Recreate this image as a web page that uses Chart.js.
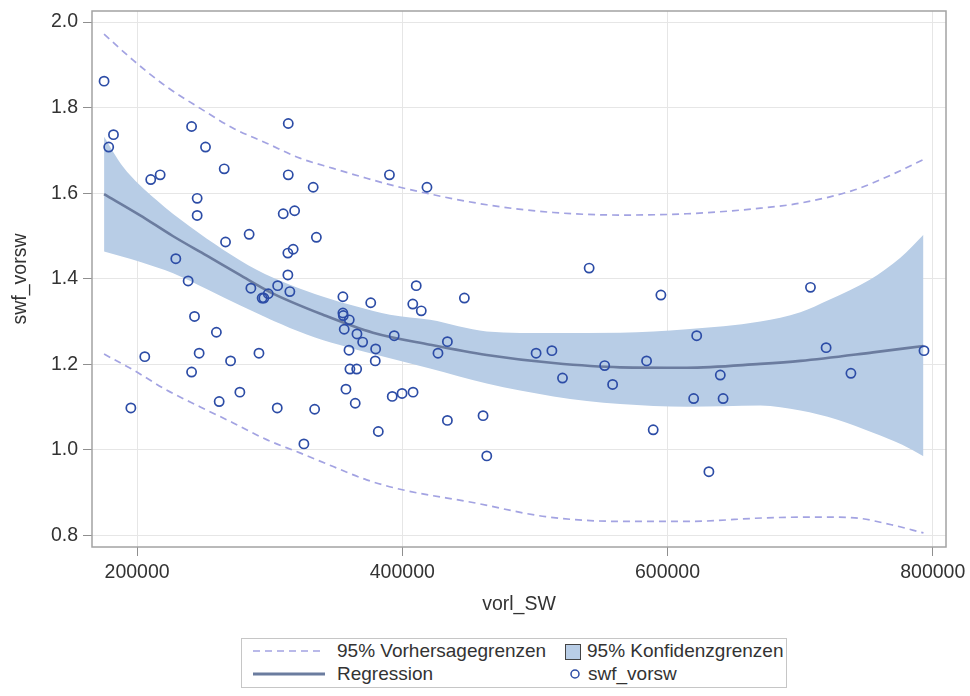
<!DOCTYPE html>
<html>
<head>
<meta charset="utf-8">
<title>swf_vorsw vs vorl_SW</title>
<script src="https://cdn.jsdelivr.net/npm/chart.js@4.4.1/dist/chart.umd.min.js"></script>
<style>
  html, body { margin: 0; padding: 0; background: #fff; }
  #wrap { position: relative; width: 970px; height: 696px; }
  #chart { position: absolute; left: 0; top: 0; }
  #legend {
    position: absolute; left: 241px; top: 638px; width: 544px; height: 48px;
    border: 1px solid #c6c6c6; background: #fff;
    font: 19px "Liberation Sans", Arial, sans-serif; color: #333;
  }
  #legend .lbl { position: absolute; white-space: nowrap; line-height: 22px; }
  #legend svg { position: absolute; overflow: visible; }
  #legend .box { position: absolute; width: 14px; height: 14px; background: #b8cde6; border: 1px solid #444; }
</style>
</head>
<body>
<div id="wrap">
  <canvas id="chart" width="970" height="696"></canvas>
  <div id="legend">
    <svg style="left:11px;top:10px" width="72" height="4"><line x1="0" y1="2" x2="72" y2="2" stroke="#a3a3e2" stroke-width="1.6" stroke-dasharray="7 5"/></svg>
    <span class="lbl" style="left:95px;top:1px">95% Vorhersagegrenzen</span>
    <span class="box" style="left:323px;top:5px"></span>
    <span class="lbl" style="left:345px;top:1px">95% Konfidenzgrenzen</span>
    <svg style="left:11px;top:33px" width="72" height="4"><line x1="0" y1="2" x2="72" y2="2" stroke="#6b7c9f" stroke-width="3"/></svg>
    <span class="lbl" style="left:95px;top:24px">Regression</span>
    <svg style="left:327px;top:29px" width="12" height="12"><circle cx="6" cy="6" r="4" fill="none" stroke="#2c4ca6" stroke-width="1.5"/></svg>
    <span class="lbl" style="left:346px;top:24px">swf_vorsw</span>
  </div>
</div>
<script>
// observations (vorl_SW, swf_vorsw)
const pointX = [175100,178600,182200,205800,195300,210300,217400,229200,238500,241100,
  243300,245300,245300,246800,241100,251600,259800,261900,265700,266700,
  270500,277500,284500,285800,291900,294300,295600,298900,305700,306000,
  310200,318800,314000,314000,313700,317700,313700,315200,325800,332800,
  333900,335200,355200,355200,355500,356200,360000,359800,357500,360500,
  365600,365800,364500,370100,376200,379900,379600,381900,390300,392400,
  399800,408100,393900,407900,410500,414300,418600,426900,434000,434000,
  446800,460900,463700,500900,512800,520800,540900,552600,558600,584200,
  589200,595000,619700,622000,631200,639800,641900,707800,719600,738300,
  793400];
const pointY = [1.862,1.708,1.737,1.218,1.098,1.632,1.643,1.447,1.395,1.756,
  1.312,1.588,1.548,1.226,1.182,1.708,1.275,1.113,1.657,1.486,
  1.208,1.135,1.504,1.378,1.226,1.355,1.355,1.365,1.098,1.384,
  1.552,1.559,1.763,1.643,1.460,1.469,1.409,1.370,1.014,1.614,
  1.095,1.497,1.358,1.320,1.314,1.282,1.304,1.233,1.142,1.189,
  1.189,1.271,1.109,1.252,1.344,1.236,1.208,1.043,1.643,1.125,
  1.132,1.135,1.267,1.341,1.384,1.325,1.614,1.226,1.253,1.069,
  1.355,1.080,0.986,1.226,1.232,1.168,1.425,1.197,1.153,1.208,
  1.047,1.362,1.120,1.267,0.949,1.175,1.120,1.380,1.239,1.179,
  1.232];

// fitted regression curve
const regX = [175100,202000,226900,252600,277500,300200,340200,377900,420900,463700,514000,564300,614600,670000,700200,755000,793000];
const regY = [1.598,1.549,1.500,1.454,1.409,1.369,1.316,1.274,1.246,1.222,1.203,1.193,1.192,1.201,1.208,1.228,1.243];

// 95% confidence limits
const confUpX = [175100,189400,214600,239800,264900,290100,315200,340400,365600,390700,420900,463700,514000,564300,614600,670000,700200,722000,752200,775600,793000];
const confUpY = [1.732,1.662,1.584,1.522,1.468,1.421,1.386,1.358,1.335,1.316,1.304,1.277,1.273,1.274,1.282,1.300,1.322,1.351,1.397,1.449,1.503];
const confLoX = [175100,202000,227200,252400,277500,302600,327900,353000,378100,420900,463700,514000,564300,614600,670000,700200,727600,755000,777000,793000];
const confLoY = [1.464,1.440,1.413,1.376,1.338,1.302,1.270,1.245,1.224,1.190,1.155,1.125,1.107,1.101,1.104,1.092,1.071,1.040,1.012,0.985];

// 95% prediction limits
const predUpX = [175100,197000,222200,247300,272500,297700,322800,347900,373100,398300,463700,514000,564300,614600,670000,700200,741300,768800,793000];
const predUpY = [1.972,1.911,1.849,1.799,1.752,1.717,1.682,1.658,1.635,1.614,1.573,1.555,1.549,1.552,1.565,1.577,1.608,1.643,1.679];
const predLoX = [175100,197000,222200,247300,272500,297700,322800,347900,373100,398300,453100,508100,562800,617900,672700,713700,741300,768800,793000];
const predLoY = [1.224,1.187,1.140,1.101,1.063,1.024,0.993,0.961,0.930,0.908,0.877,0.844,0.833,0.833,0.841,0.843,0.841,0.825,0.806];

const xTicks = [200000, 400000, 600000, 800000];
const yTicks = [0.8, 1.0, 1.2, 1.4, 1.6, 1.8, 2.0];

const pts = (xs, ys) => xs.map((x, i) => ({ x: x, y: ys[i] }));
const font = { family: '"Liberation Sans", Arial, sans-serif', size: 19.5 };

// grey frame round the plot area
const frame = {
  id: 'frame',
  afterDatasetsDraw(chart) {
    const { ctx, chartArea: { left, top, right, bottom } } = chart;
    ctx.save();
    ctx.strokeStyle = '#a3a3a3';
    ctx.lineWidth = 1.5;
    ctx.strokeRect(left, top, right - left, bottom - top);
    ctx.restore();
  },
};

const curve = {
  type: 'line',
  pointRadius: 0,
  pointHoverRadius: 0,
  fill: false,
  cubicInterpolationMode: 'monotone',
};

new Chart(document.getElementById('chart'), {
  type: 'scatter',
  data: {
    datasets: [
      {
        label: 'swf_vorsw',
        data: pts(pointX, pointY),
        pointStyle: 'circle',
        pointRadius: 4.6,
        pointBorderWidth: 1.7,
        borderColor: '#2c4ca6',
        backgroundColor: 'rgba(0,0,0,0)',
        order: 0,
      },
      {
        ...curve,
        label: 'Regression',
        data: pts(regX, regY),
        borderColor: '#6b7c9f',
        borderWidth: 2.6,
        order: 1,
      },
      {
        ...curve,
        label: '95% Vorhersagegrenzen',
        data: pts(predUpX, predUpY),
        borderColor: '#a3a3e2',
        borderWidth: 1.7,
        borderDash: [7, 5],
        order: 2,
      },
      {
        ...curve,
        label: '95% Vorhersagegrenzen (unten)',
        data: pts(predLoX, predLoY),
        borderColor: '#a3a3e2',
        borderWidth: 1.7,
        borderDash: [7, 5],
        order: 2,
      },
      {
        ...curve,
        label: '95% Konfidenzgrenzen',
        data: pts(confUpX, confUpY),
        borderColor: 'rgba(0,0,0,0)',
        borderWidth: 0,
        backgroundColor: '#b8cde6',
        fill: '+1',
        order: 3,
      },
      {
        ...curve,
        label: '95% Konfidenzgrenzen (unten)',
        data: pts(confLoX, confLoY),
        borderColor: 'rgba(0,0,0,0)',
        borderWidth: 0,
        order: 3,
      },
    ],
  },
  options: {
    responsive: false,
    animation: false,
    layout: { padding: { left: 0, top: 11, right: 24, bottom: 76 } },
    scales: {
      x: {
        type: 'linear',
        min: 166000,
        max: 810000,
        afterBuildTicks: (s) => { s.ticks = xTicks.map((v) => ({ value: v })); },
        afterFit: (s) => { s.height = 73; s.paddingLeft = 0; s.paddingRight = 0; },
        grid: { color: '#e6e6e6', tickColor: '#8f8f8f', tickLength: 9, lineWidth: 1 },
        border: { display: false },
        ticks: { padding: 5, color: '#333', font: font, maxRotation: 0, autoSkip: false, callback: (v) => String(v) },
        title: { display: true, text: 'vorl_SW', color: '#333', font: font, padding: { top: 0, bottom: 4 } },
      },
      y: {
        type: 'linear',
        min: 0.773,
        max: 2.026,
        afterBuildTicks: (s) => { s.ticks = yTicks.map((v) => ({ value: v })); },
        // keep the plot area where the reference has it
        afterFit: (s) => { s.width = 92; s.paddingTop = 0; s.paddingBottom = 0; },
        grid: { color: '#e6e6e6', tickColor: '#8f8f8f', tickLength: 9, lineWidth: 1 },
        border: { display: false },
        ticks: { padding: 5, color: '#333', font: font, autoSkip: false, callback: (v) => v.toFixed(1) },
        title: { display: true, text: 'swf_vorsw', color: '#333', font: font, padding: { top: 9, bottom: 0 } },
      },
    },
    plugins: {
      legend: { display: false },
      tooltip: { enabled: false },
    },
  },
  plugins: [frame],
});
</script>
</body>
</html>
